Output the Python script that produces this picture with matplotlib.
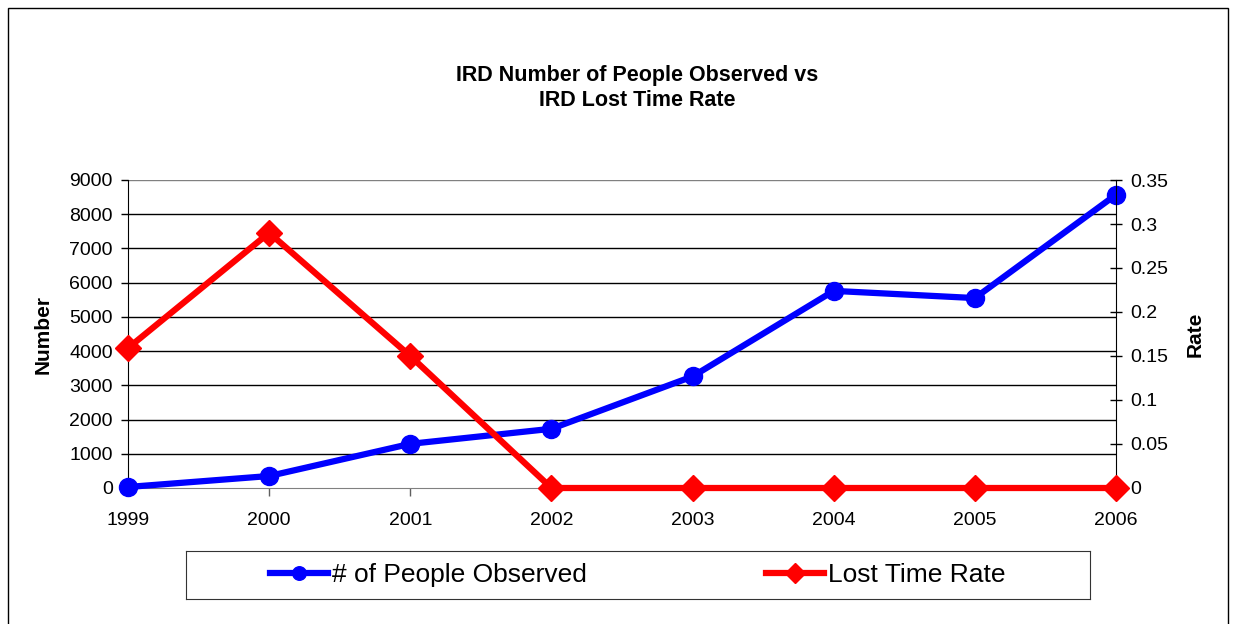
import matplotlib
matplotlib.use("Agg")
import matplotlib.pyplot as plt
from matplotlib.patches import Rectangle

plt.rcParams["font.family"] = ["Liberation Sans", "DejaVu Sans"]

years = ["1999", "2000", "2001", "2002", "2003", "2004", "2005", "2006"]
people_observed = [30, 350, 1290, 1730, 3260, 5760, 5550, 8570]
lost_time_rate = [0.159, 0.290, 0.150, 0.0, 0.0, 0.0, 0.0, 0.0]
left_ticks = [0, 1000, 2000, 3000, 4000, 5000, 6000, 7000, 8000, 9000]
right_ticks = [0, 0.05, 0.1, 0.15, 0.2, 0.25, 0.3, 0.35]
right_labels = ["0", "0.05", "0.1", "0.15", "0.2", "0.25", "0.3", "0.35"]

W, H = 1233, 624
fig = plt.figure(figsize=(W / 100, H / 100), dpi=100)
fig.patches.append(Rectangle((8 / W, -0.01), (1228 - 8) / W, (H - 8) / H + 0.01,
                             transform=fig.transFigure, fill=False,
                             edgecolor="black", lw=1))

ax = fig.add_axes([128 / W, 1 - 488 / H, (1116 - 128) / W, (488 - 180) / H])
ax2 = ax.twinx()

x = list(range(len(years)))
ax.set_xlim(0, len(years) - 1)
ax.set_ylim(0, 9000)
ax2.set_ylim(0, 0.35)

# horizontal gridlines (top one grey like the plot frame)
for t in left_ticks[1:]:
    ax.axhline(t, color="black" if t < 9000 else "#808080", lw=1, zorder=1)

l1, = ax.plot(x, people_observed, color="#0000FF", lw=4.5, marker="o",
              markersize=13, zorder=3, clip_on=False)
l2, = ax2.plot(x, lost_time_rate, color="#FF0000", lw=4.5, marker="D",
               markersize=13, zorder=3, clip_on=False)

ax.set_xticks(x)
ax.set_xticklabels(years, fontsize=14)
ax.set_yticks(left_ticks)
ax.set_yticklabels([str(t) for t in left_ticks], fontsize=14)
ax2.set_yticks(right_ticks)
ax2.set_yticklabels(right_labels, fontsize=14)

ax.tick_params(axis="y", direction="out", length=5, width=1, color="black", pad=6)
ax.tick_params(axis="x", direction="out", length=6, width=1, color="#606060", pad=11)
ax2.tick_params(axis="y", direction="inout", length=9, width=1, color="black", pad=6)
for a in (ax, ax2):
    a.spines["top"].set_visible(False)
ax.spines["right"].set_visible(False)
ax.spines["left"].set_color("black")
ax.spines["bottom"].set_color("#808080")
ax2.spines["left"].set_visible(False)
ax2.spines["bottom"].set_visible(False)
ax2.spines["right"].set_color("black")

ax.set_ylabel("Number", fontsize=15, fontweight="bold", labelpad=12)
ax2.set_ylabel("Rate", fontsize=15, fontweight="bold", labelpad=12)

fig.text(637 / W, 1 - 88 / H, "IRD Number of People Observed vs\nIRD Lost Time Rate",
         ha="center", va="center", fontsize=15.5, fontweight="bold", linespacing=1.3)

leg_ax = fig.add_axes([186 / W, 1 - 599 / H, (1090 - 186) / W, 48 / H])
leg_ax.set_xticks([])
leg_ax.set_yticks([])
for s in leg_ax.spines.values():
    s.set_color("#333333")
leg_ax.legend([l1, l2], ["# of People Observed", "Lost Time Rate"],
              loc="center", ncol=2, frameon=False, fontsize=19,
              handlelength=2.2, handletextpad=0.15, columnspacing=6.8,
              markerscale=0.75)

fig.savefig("out.png", dpi=100)
